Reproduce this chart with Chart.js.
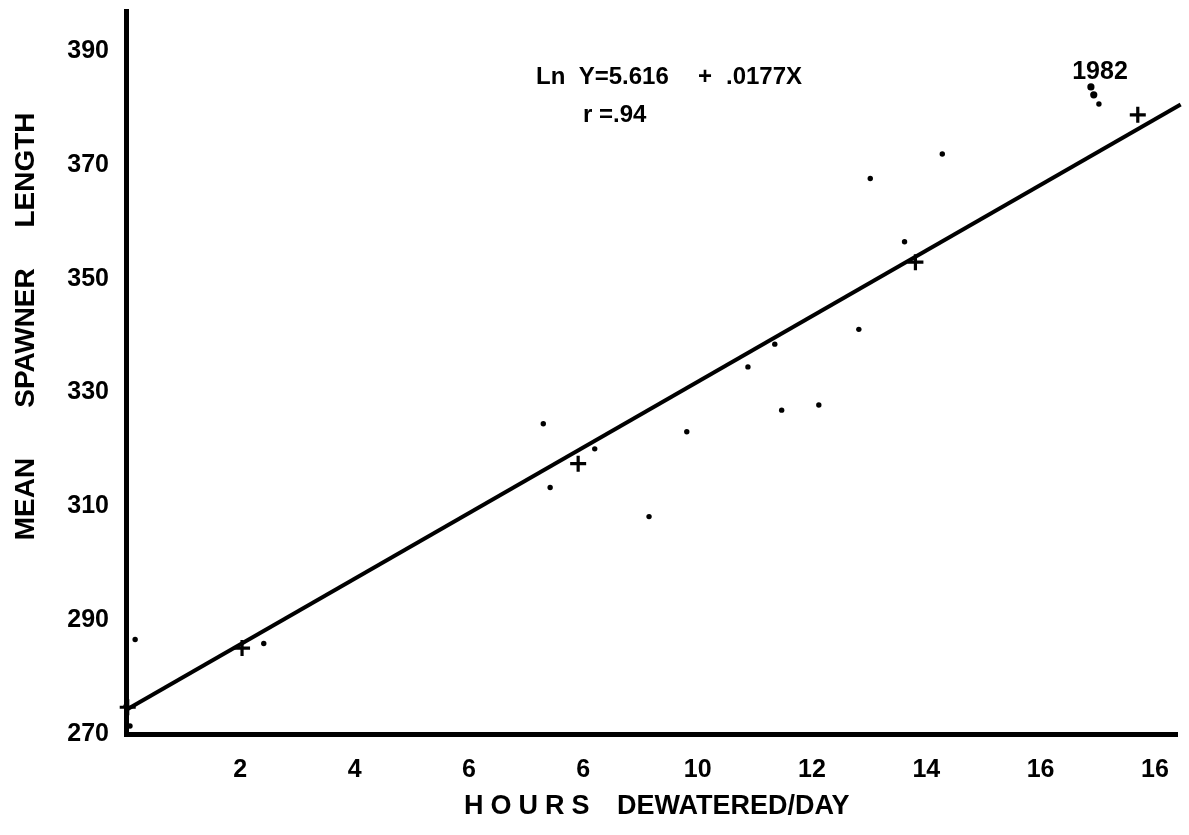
<!DOCTYPE html>
<html>
<head>
<meta charset="utf-8">
<title>Mean spawner length vs hours dewatered</title>
<script src="https://cdn.jsdelivr.net/npm/chart.js@4.4.1/dist/chart.umd.min.js"></script>
<style>
  html, body { margin: 0; padding: 0; background: #fff; }
  #wrap { width: 1189px; height: 835px; }
</style>
</head>
<body>
<div id="wrap"><canvas id="spawnerChart" width="1189" height="835"></canvas></div>
<script>
// Axis ticks (the printed x labels read "6" at 8 and "16" at 18)
const xTickValues = [2, 4, 6, 8, 10, 12, 14, 16, 18];
const xTickLabels = ['2', '4', '6', '6', '10', '12', '14', '16', '16'];
const yTickValues = [270, 290, 310, 330, 350, 370, 390];

// Yearly observations: hours dewatered per day vs mean spawner length
const obsHours = [0, 0.07, 0.16, 2.41, 7.30, 7.42, 8.20, 9.15, 9.81, 10.88, 11.35, 11.47, 12.12, 12.82, 13.02, 13.62, 14.28, 17.02];
const obsLength = [274.9, 271.4, 286.6, 285.9, 324.5, 313.3, 320.1, 308.2, 323.1, 334.5, 338.5, 326.9, 327.8, 341.1, 367.6, 356.5, 371.9, 380.7];

// The smudged 1982 point
const y1982Hours = [16.88, 16.93];
const y1982Length = [383.7, 382.3];

// Group means (plotted as +)
const meanHours = [0.03, 2.03, 7.91, 13.81, 17.70];
const meanLength = [274.7, 285.1, 317.5, 352.9, 378.8];

// Fitted line end points
const fitHours = [0.03, 18.45];
const fitLength = [274.4, 380.6];

const toPoints = (xs, ys) => xs.map((x, i) => ({ x: x, y: ys[i] }));

const boldFont = (size, family) => `bold ${size}px ${family || 'Arial, "Liberation Sans", sans-serif'}`;

// keep the plot box fixed: no extra room for edge labels
const noScalePadding = scale => {
    scale.paddingTop = 0;
    scale.paddingBottom = 0;
    scale.paddingLeft = 0;
    scale.paddingRight = 0;
};

// Equation, correlation, year tag and axis titles
const textPlugin = {
    id: 'textPlugin',
    afterDraw(chart) {
        const c = chart.ctx;
        c.save();
        c.fillStyle = '#000';
        c.textBaseline = 'middle';
        c.textAlign = 'left';

        c.font = boldFont(24);
        c.fillText('Ln  Y=5.616', 536, 77);
        c.fillText('+', 698, 77);
        c.fillText('.0177X', 726, 77);
        c.fillText('r =.94', 583, 115);

        c.textAlign = 'center';
        c.font = boldFont(25);
        c.fillText('1982', 1100, 72);

        // x axis title
        c.textAlign = 'left';
        c.font = boldFont(27);
        c.letterSpacing = '7px';
        c.fillText('HOURS', 464, 807);
        c.letterSpacing = '0px';
        c.fillText('DEWATERED/DAY', 617, 807);

        // y axis title, word by word
        c.translate(26, 0);
        c.rotate(-Math.PI / 2);
        c.font = boldFont(28);
        c.textAlign = 'center';
        c.fillText('LENGTH', -170, 0);
        c.fillText('SPAWNER', -338, 0);
        c.fillText('MEAN', -499, 0);
        c.restore();
    }
};

const ctx = document.getElementById('spawnerChart').getContext('2d');

new Chart(ctx, {
    type: 'scatter',
    data: {
        datasets: [
            {
                type: 'line',
                label: 'Ln Y = 5.616 + .0177X',
                data: toPoints(fitHours, fitLength),
                borderColor: '#000',
                borderWidth: 4,
                pointRadius: 0,
                fill: false,
                clip: false
            },
            {
                label: 'Observations',
                data: toPoints(obsHours, obsLength),
                backgroundColor: '#000',
                borderWidth: 0,
                pointRadius: 2.7,
                clip: false
            },
            {
                label: '1982',
                data: toPoints(y1982Hours, y1982Length),
                backgroundColor: '#000',
                borderWidth: 0,
                pointRadius: 3.6,
                clip: false
            },
            {
                label: 'Means',
                data: toPoints(meanHours, meanLength),
                pointStyle: 'cross',
                pointRadius: 8,
                borderColor: '#000',
                borderWidth: 3.2,
                clip: false
            }
        ]
    },
    options: {
        responsive: false,
        animation: false,
        events: [],
        layout: { padding: { left: 0, right: 9, top: 9, bottom: 0 } },
        plugins: {
            legend: { display: false },
            tooltip: { enabled: false }
        },
        scales: {
            x: {
                type: 'linear',
                min: 0,
                max: 18.4,
                afterBuildTicks: scale => { scale.ticks = xTickValues.map(v => ({ value: v })); },
                afterFit: scale => { scale.height = 101; noScalePadding(scale); },
                grid: { drawOnChartArea: false, drawTicks: false },
                border: { display: true, color: '#000', width: 5 },
                ticks: {
                    padding: 21,
                    color: '#000',
                    maxRotation: 0,
                    font: { family: '"Liberation Sans Narrow", Arial, sans-serif', size: 25, weight: 'bold' },
                    callback: v => xTickLabels[xTickValues.indexOf(v)]
                }
            },
            y: {
                type: 'linear',
                min: 270,
                max: 397,
                afterBuildTicks: scale => { scale.ticks = yTickValues.map(v => ({ value: v })); },
                afterFit: scale => { scale.width = 126; noScalePadding(scale); },
                grid: { drawOnChartArea: false, drawTicks: false },
                border: { display: true, color: '#000', width: 5 },
                ticks: {
                    padding: 17,
                    color: '#000',
                    font: { family: 'Arial, "Liberation Sans", sans-serif', size: 25, weight: 'bold' }
                }
            }
        }
    },
    plugins: [textPlugin]
});
</script>
</body>
</html>
